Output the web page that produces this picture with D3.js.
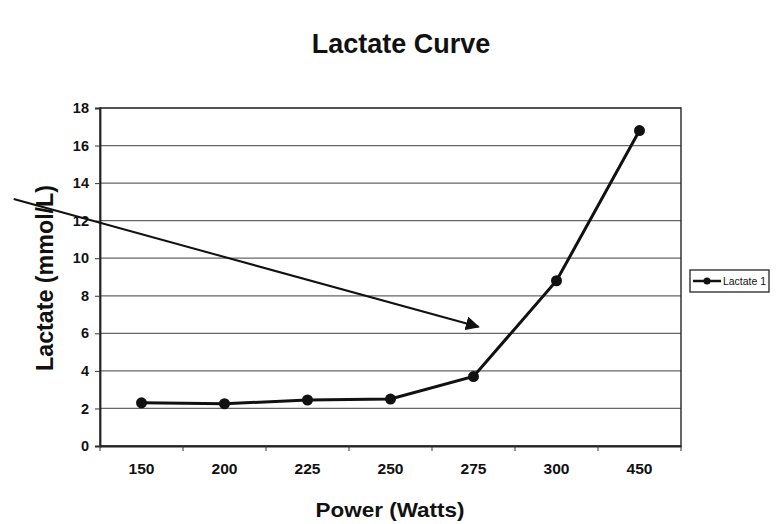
<!DOCTYPE html>
<html>
<head>
<meta charset="utf-8">
<script src="https://cdnjs.cloudflare.com/ajax/libs/d3/7.8.5/d3.min.js"></script>
<style>
  body { margin: 0; background: #fff; }
  text { font-family: "Liberation Sans", Arial, sans-serif; fill: #111; }
</style>
</head>
<body>
<script>
// power steps and measured lactate
var powers = ["150", "200", "225", "250", "275", "300", "450"];
var lactate = [2.3, 2.25, 2.45, 2.5, 3.7, 8.8, 16.8];
var yTicks = [0, 2, 4, 6, 8, 10, 12, 14, 16, 18];
var seriesName = "Lactate 1";

// annotation arrow, in axis units (start sits left of the plot)
var arrowFrom = {band: -1.54, value: 13.15};
var arrowTo = {band: 4.06, value: 6.35};

var W = 779, H = 524;
var margin = {top: 108, right: 98, bottom: 78, left: 100};
var width = W - margin.left - margin.right;
var height = H - margin.top - margin.bottom;

var svg = d3.select("body").append("svg")
  .attr("width", W)
  .attr("height", H);

svg.append("defs").append("marker")
    .attr("id", "arrowhead")
    .attr("viewBox", "0 0 10 10")
    .attr("refX", 9).attr("refY", 5)
    .attr("markerWidth", 7).attr("markerHeight", 7)
    .attr("markerUnits", "strokeWidth")
    .attr("orient", "auto")
  .append("path")
    .attr("d", "M0,0 L10,5 L0,10 z")
    .attr("fill", "#111");

var g = svg.append("g")
  .attr("transform", "translate(" + margin.left + "," + margin.top + ")");

var x = d3.scaleBand().domain(powers).range([0, width]);
var y = d3.scaleLinear().domain([0, 18]).range([height, 0]);

function bandX(b) { return b * x.step() + x.step() / 2; }

// horizontal grid
g.append("g")
  .selectAll("line")
  .data(yTicks)
  .enter().append("line")
    .attr("x1", 0).attr("x2", width)
    .attr("y1", function(d) { return y(d); })
    .attr("y2", function(d) { return y(d); })
    .attr("stroke", "#666")
    .attr("stroke-width", 1.2);

// plot frame
g.append("rect")
  .attr("width", width).attr("height", height)
  .attr("fill", "none")
  .attr("stroke", "#333")
  .attr("stroke-width", 1.5);

// y axis
var yAxis = g.append("g")
  .call(d3.axisLeft(y).tickValues(yTicks).tickSize(5).tickPadding(6));
yAxis.select(".domain").attr("stroke", "#222").attr("stroke-width", 1.8);
yAxis.selectAll(".tick line").attr("stroke", "#333");
yAxis.selectAll("text")
  .style("font-size", "14.5px").style("font-weight", "bold");

// x axis, ticks between categories
var xAxis = g.append("g")
  .attr("transform", "translate(0," + height + ")")
  .call(d3.axisBottom(x).tickSize(0).tickPadding(18));
xAxis.select(".domain").attr("stroke", "#222").attr("stroke-width", 1.8);
xAxis.selectAll("text")
  .style("font-size", "14px").style("font-weight", "bold")
  .attr("textLength", 26).attr("lengthAdjust", "spacingAndGlyphs");
xAxis.selectAll(".sep")
  .data(d3.range(powers.length + 1))
  .enter().append("line")
    .attr("class", "sep")
    .attr("x1", function(i) { return i * x.step(); })
    .attr("x2", function(i) { return i * x.step(); })
    .attr("y1", 0).attr("y2", 5)
    .attr("stroke", "#333");

// series
var pts = powers.map(function(p, i) { return {p: p, v: lactate[i]}; });
var line = d3.line()
  .x(function(d) { return x(d.p) + x.bandwidth() / 2; })
  .y(function(d) { return y(d.v); });

g.append("path")
  .datum(pts)
  .attr("d", line)
  .attr("fill", "none")
  .attr("stroke", "#111")
  .attr("stroke-width", 3);

g.selectAll("circle.pt")
  .data(pts)
  .enter().append("circle")
    .attr("class", "pt")
    .attr("cx", function(d) { return x(d.p) + x.bandwidth() / 2; })
    .attr("cy", function(d) { return y(d.v); })
    .attr("r", 5.5)
    .attr("fill", "#111");

// arrow annotation
svg.append("line")
  .attr("x1", margin.left + bandX(arrowFrom.band))
  .attr("y1", margin.top + y(arrowFrom.value))
  .attr("x2", margin.left + bandX(arrowTo.band))
  .attr("y2", margin.top + y(arrowTo.value))
  .attr("stroke", "#111")
  .attr("stroke-width", 2)
  .attr("marker-end", "url(#arrowhead)");

// titles
svg.append("text")
  .attr("x", 401).attr("y", 53)
  .attr("text-anchor", "middle")
  .style("font-size", "27px").style("font-weight", "bold")
  .text("Lactate Curve");

svg.append("text")
  .attr("transform", "translate(53,278) rotate(-90)")
  .attr("text-anchor", "middle")
  .attr("textLength", 186).attr("lengthAdjust", "spacingAndGlyphs")
  .style("font-size", "23px").style("font-weight", "bold")
  .text("Lactate (mmol/L)");

svg.append("text")
  .attr("x", 390).attr("y", 517)
  .attr("text-anchor", "middle")
  .attr("textLength", 149).attr("lengthAdjust", "spacingAndGlyphs")
  .style("font-size", "21px").style("font-weight", "bold")
  .text("Power (Watts)");

// legend
var lg = svg.append("g").attr("transform", "translate(690,270)");
lg.append("rect")
  .attr("width", 79).attr("height", 22)
  .attr("fill", "#fff")
  .attr("stroke", "#333")
  .attr("stroke-width", 1.4);
lg.append("line")
  .attr("x1", 3).attr("x2", 31)
  .attr("y1", 11).attr("y2", 11)
  .attr("stroke", "#111").attr("stroke-width", 2.5);
lg.append("circle")
  .attr("cx", 17).attr("cy", 11).attr("r", 3.5)
  .attr("fill", "#111");
lg.append("text")
  .attr("x", 33).attr("y", 15)
  .attr("textLength", 43).attr("lengthAdjust", "spacingAndGlyphs")
  .style("font-size", "10px")
  .text(seriesName);
</script>
</body>
</html>
